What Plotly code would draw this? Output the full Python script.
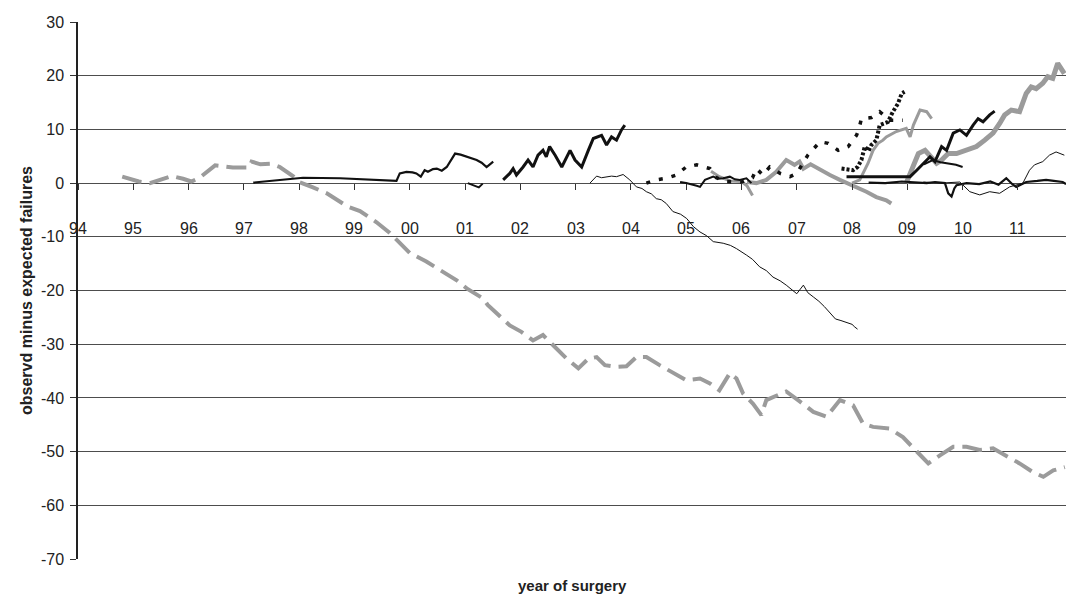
import plotly.graph_objects as go

# ---------------- data (year, observed minus expected) ----------------
year_ticks = [1994, 1995, 1996, 1997, 1998, 1999, 2000, 2001, 2002, 2003,
              2004, 2005, 2006, 2007, 2008, 2009, 2010, 2011]
year_labels = ["94", "95", "96", "97", "98", "99", "00", "01", "02", "03",
               "04", "05", "06", "07", "08", "09", "10", "11"]
y_ticks = [30, 20, 10, 0, -10, -20, -30, -40, -50, -60, -70]
y_labels = ["30", "20", "10", "0", "-10", "-20", "-30", "-40", "-50", "-60", "-70"]

gray_dashed = [(1994.8, 1.2), (1995.1, 0.3), (1995.3, 0.0), (1995.5, 0.6), (1995.7, 1.3),
               (1995.9, 0.8), (1996.05, 0.3), (1996.2, 1.0), (1996.48, 3.3), (1996.8, 2.9),
               (1997.1, 2.9), (1997.14, 4.0), (1997.3, 3.5), (1997.5, 3.6), (1997.65, 3.0),
               (1997.9, 1.2), (1998.0, 0.2), (1998.25, -0.8), (1998.5, -1.9), (1998.88, -4.4),
               (1999.1, -5.2), (1999.4, -7.3), (1999.64, -9.3), (2000.0, -13.0), (2000.3, -14.6),
               (2000.55, -16.2), (2000.85, -18.1), (2001.03, -19.6), (2001.33, -21.5), (2001.41, -22.7),
               (2001.63, -24.9), (2001.81, -26.5), (2002.02, -27.7), (2002.23, -29.3), (2002.41, -28.3),
               (2002.66, -30.8), (2002.84, -32.7), (2003.05, -34.5), (2003.23, -32.7), (2003.38, -32.4),
               (2003.53, -33.9), (2003.74, -34.2), (2003.92, -34.1), (2004.1, -32.4), (2004.28, -32.4),
               (2004.52, -33.9), (2004.76, -35.4), (2005.0, -36.7), (2005.25, -36.4), (2005.43, -37.3),
               (2005.6, -38.6), (2005.79, -35.4), (2005.91, -36.4), (2006.03, -39.2), (2006.21, -41.1),
               (2006.36, -43.2), (2006.45, -40.4), (2006.81, -38.8), (2007.06, -40.7), (2007.3, -42.6),
               (2007.54, -43.5), (2007.78, -40.4), (2008.02, -41.4), (2008.2, -44.8), (2008.38, -45.4),
               (2008.68, -45.7), (2008.92, -47.3), (2009.17, -50.1), (2009.38, -52.2), (2009.59, -50.7),
               (2009.83, -49.1), (2010.07, -49.1), (2010.31, -49.7), (2010.55, -49.4), (2010.79, -50.7),
               (2011.03, -52.2), (2011.27, -53.8), (2011.46, -54.7), (2011.64, -53.5), (2011.85, -52.9)]

gray_a = [(2005.45, 2.2), (2005.6, 1.2), (2005.8, 0.4), (2006.0, 0.3), (2006.1, -0.5), (2006.2, -2.3)]

gray_b = [(2006.1, 0.2), (2006.27, 0.0), (2006.45, 0.6), (2006.63, 2.1), (2006.81, 4.3),
          (2006.96, 3.4), (2007.05, 4.0), (2007.12, 2.7), (2007.25, 3.5), (2007.33, 3.0),
          (2007.48, 2.1), (2007.6, 1.5), (2007.78, 0.6), (2008.02, -0.4), (2008.26, -1.6),
          (2008.44, -2.6), (2008.62, -3.2), (2008.71, -3.8)]

gray_c = [(2008.0, 0.0), (2008.14, 0.6), (2008.29, 3.7), (2008.38, 6.1), (2008.47, 7.4),
          (2008.56, 8.0), (2008.62, 8.6), (2008.8, 9.6), (2008.98, 10.2), (2009.05, 8.6),
          (2009.11, 10.8), (2009.23, 13.6), (2009.35, 13.3), (2009.44, 12.0)]

gray_d = [(2008.98, 0.0), (2009.05, 1.8), (2009.11, 3.7), (2009.2, 5.5), (2009.32, 6.1),
          (2009.44, 4.9), (2009.53, 3.7), (2009.62, 4.3), (2009.74, 5.5), (2009.89, 5.5),
          (2010.07, 6.1), (2010.25, 6.8), (2010.4, 8.0), (2010.55, 9.3), (2010.67, 11.1),
          (2010.76, 12.7), (2010.88, 13.6), (2011.03, 13.3), (2011.15, 16.7), (2011.24, 17.9),
          (2011.33, 17.6), (2011.45, 18.6), (2011.54, 19.8), (2011.63, 19.5), (2011.72, 22.3),
          (2011.78, 21.1), (2011.84, 20.4)]

black_1997 = [(1997.17, 0.1), (1998.07, 1.0), (1998.74, 0.9), (1999.76, 0.4), (1999.82, 1.8),
              (1999.94, 2.1), (2000.05, 2.0), (2000.12, 1.8), (2000.2, 1.2), (2000.27, 2.4),
              (2000.33, 2.1), (2000.42, 2.6), (2000.49, 2.7), (2000.58, 2.3), (2000.67, 3.0),
              (2000.75, 4.3), (2000.82, 5.5), (2000.92, 5.3), (2001.03, 4.9), (2001.12, 4.5),
              (2001.21, 4.3), (2001.3, 3.8), (2001.39, 3.0), (2001.45, 3.5), (2001.51, 4.0)]

black_dip = [(2001.05, 0.0), (2001.15, -0.4), (2001.25, -0.8), (2001.32, -0.1)]

black_2002 = [(2001.69, 0.6), (2001.81, 1.8), (2001.87, 2.7), (2001.93, 1.5), (2002.05, 3.0),
              (2002.14, 4.3), (2002.23, 3.0), (2002.32, 5.2), (2002.41, 6.1), (2002.47, 4.9),
              (2002.53, 6.8), (2002.63, 5.2), (2002.75, 3.0), (2002.9, 6.1), (2002.99, 4.3),
              (2003.11, 3.0), (2003.23, 6.1), (2003.32, 8.3), (2003.47, 8.9), (2003.56, 7.1),
              (2003.65, 8.6), (2003.74, 8.0), (2003.83, 9.9), (2003.89, 10.8)]

thin_2003 = [(2003.26, 0.0), (2003.38, 1.3), (2003.47, 1.0), (2003.56, 1.1), (2003.65, 1.3),
             (2003.74, 1.2), (2003.86, 1.6), (2003.98, 0.6), (2004.1, -0.7), (2004.2, -1.0),
             (2004.28, -1.6), (2004.37, -2.0), (2004.46, -2.9), (2004.55, -3.1), (2004.64, -3.8),
             (2004.76, -5.3), (2004.9, -5.8), (2005.01, -6.6), (2005.13, -8.1), (2005.25, -9.1),
             (2005.37, -9.8), (2005.49, -10.9), (2005.67, -11.2), (2005.8, -11.6), (2005.91, -12.2),
             (2006.09, -13.4), (2006.2, -14.2), (2006.33, -15.6), (2006.45, -16.3), (2006.57, -17.5),
             (2006.7, -18.2), (2006.81, -19.0), (2007.0, -20.6), (2007.12, -19.0), (2007.2, -20.4),
             (2007.3, -21.2), (2007.4, -22.0), (2007.5, -23.0), (2007.6, -24.1), (2007.7, -25.3),
             (2007.8, -25.6), (2007.9, -26.0), (2008.0, -26.3), (2008.05, -26.8), (2008.1, -27.2)]

black_2005 = [(2004.89, 0.2), (2005.0, 0.0), (2005.19, -0.5), (2005.25, -0.7), (2005.34, 0.6),
              (2005.49, 1.2), (2005.58, 0.8), (2005.67, 0.9), (2005.79, 1.2), (2005.88, 0.7),
              (2005.97, 0.6), (2006.09, 0.9), (2006.18, 0.0)]

black_dotted = [(2004.28, 0.0), (2004.46, 0.6), (2004.64, 0.9), (2004.82, 1.5), (2005.0, 3.0),
                (2005.19, 3.4), (2005.43, 2.7), (2005.55, 1.0), (2005.7, 0.3), (2006.0, 0.2),
                (2006.2, 1.0), (2006.27, 2.7), (2006.39, 1.5), (2006.51, 3.0), (2006.7, 1.8),
                (2006.88, 1.2), (2007.0, 1.8), (2007.2, 5.2), (2007.42, 7.7), (2007.57, 7.4),
                (2007.75, 6.1), (2007.93, 6.8), (2008.08, 8.9), (2008.12, 9.9), (2008.17, 12.0),
                (2008.35, 12.2), (2008.5, 13.3), (2008.68, 11.7), (2008.92, 11.7)]

black_dense = [(2007.81, 2.7), (2008.02, 2.4), (2008.1, 3.0), (2008.17, 4.3), (2008.23, 6.8),
               (2008.3, 6.0), (2008.35, 7.1), (2008.44, 8.0), (2008.5, 10.8), (2008.56, 11.1),
               (2008.65, 11.4), (2008.74, 13.3), (2008.83, 14.8), (2008.9, 16.7), (2008.95, 17.0)]

black_2009 = [(2007.9, 1.2), (2008.5, 1.2), (2009.05, 1.2), (2009.17, 2.4), (2009.29, 3.7),
              (2009.41, 4.9), (2009.5, 4.0), (2009.62, 6.8), (2009.71, 6.1), (2009.83, 9.3),
              (2009.95, 9.9), (2010.07, 8.9), (2010.19, 10.8), (2010.28, 12.0), (2010.37, 11.4),
              (2010.49, 12.7), (2010.58, 13.4)]

black_short = [(2009.3, 3.5), (2009.46, 4.3), (2009.6, 3.9), (2009.75, 3.6), (2009.88, 3.4), (2010.0, 3.0)]

black_zero = [(2008.3, 0.1), (2008.6, 0.0), (2008.9, 0.3), (2009.17, 0.2), (2009.35, 0.0),
              (2009.5, 0.2), (2009.68, 0.0), (2009.74, -1.9), (2009.8, -2.5), (2009.85, -1.0),
              (2009.89, -0.4), (2010.07, 0.0), (2010.3, -0.2), (2010.5, 0.3), (2010.65, -0.3),
              (2010.79, 0.9), (2010.9, -0.2), (2010.97, -0.7), (2011.15, 0.2), (2011.35, 0.4),
              (2011.51, 0.6), (2011.65, 0.4), (2011.81, 0.2), (2011.87, -0.2)]

thin_2009 = [(2009.29, 0.2), (2009.6, 0.0), (2009.95, 0.2), (2010.13, -1.6), (2010.31, -2.2),
             (2010.49, -1.6), (2010.67, -1.9), (2010.85, -0.7), (2011.09, 0.0), (2011.21, 2.4),
             (2011.3, 3.4), (2011.45, 4.0), (2011.57, 5.2), (2011.69, 5.8), (2011.84, 5.2)]

# ---------------- styles ----------------
GRAY = "#9b9b9b"
BLACK = "#111111"
FONT = "Arial, 'Liberation Sans', sans-serif"

series = [
    (gray_dashed, GRAY, 4, "20px,8px"),
    (gray_a, GRAY, 3, "solid"),
    (gray_b, GRAY, 4, "solid"),
    (gray_c, GRAY, 3, "solid"),
    (gray_d, GRAY, 5, "solid"),
    (black_1997, BLACK, 2.2, "solid"),
    (black_dip, BLACK, 2, "solid"),
    (black_2002, BLACK, 3, "solid"),
    (thin_2003, BLACK, 1, "solid"),
    (black_2005, BLACK, 2, "solid"),
    (black_dotted, BLACK, 3.5, "4px,9px"),
    (black_dense, BLACK, 4, "3px,2px"),
    (black_2009, BLACK, 3, "solid"),
    (black_short, BLACK, 2, "solid"),
    (black_zero, BLACK, 2.2, "solid"),
    (thin_2009, BLACK, 1, "solid"),
]

fig = go.Figure()
for pts, color, width, dash in series:
    fig.add_trace(go.Scatter(
        x=[p[0] for p in pts], y=[p[1] for p in pts],
        mode="lines", line=dict(color=color, width=width, dash=dash),
        showlegend=False, hoverinfo="skip"))

annotations = [
    dict(x=yr, y=-8.4, xref="x", yref="y", text=lab, showarrow=False,
         xanchor="center", yanchor="middle", font=dict(family=FONT, size=16, color="#222"))
    for yr, lab in zip(year_ticks, year_labels)
]
annotations.append(dict(x=0.5, y=-0.05, xref="paper", yref="paper",
                        text="<b>year of surgery</b>", showarrow=False,
                        xanchor="center", yanchor="middle",
                        font=dict(family=FONT, size=15, color="#222")))

fig.update_layout(
    width=1066, height=597,
    margin=dict(l=78, r=0, t=22, b=38),
    paper_bgcolor="white", plot_bgcolor="white",
    font=dict(family=FONT, size=16, color="#222"),
    xaxis=dict(range=[1994, 2011.87], anchor="free", position=0.7,
               tickvals=year_ticks, showticklabels=False,
               ticks="outside", ticklen=6, tickwidth=1.3, tickcolor="#333",
               showgrid=False, zeroline=False, showline=False),
    yaxis=dict(range=[-70, 30], tickvals=y_ticks, ticktext=y_labels,
               showgrid=True, gridcolor="#4d4d4d", gridwidth=1.4,
               zeroline=False, showline=True, linecolor="#222", linewidth=1.5,
               ticks="outside", ticklen=6, tickwidth=1.3, tickcolor="#333",
               ticklabelstandoff=3,
               tickfont=dict(family=FONT, size=16, color="#222"),
               title=dict(text="<b>observd minus expected failures</b>",
                          font=dict(family=FONT, size=16, color="#222"), standoff=4)),
    annotations=annotations,
)

fig.write_html("out.html", config={"displayModeBar": False},
               post_script="document.body.style.margin='0px';")
